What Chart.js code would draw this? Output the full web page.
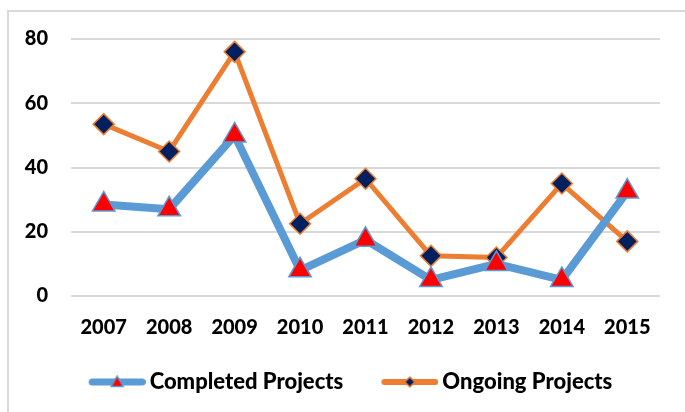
<!DOCTYPE html>
<html lang="en">
<head>
    <meta charset="UTF-8">
    <title>Projects 2007-2015</title>
    <script src="https://cdn.jsdelivr.net/npm/chart.js"></script>
    <style>
        body {
            margin: 0;
            background: #ffffff;
            overflow: hidden;
        }
        .frame {
            position: absolute;
            left: 7px;
            top: 10px;
            width: 700px;
            height: 420px;
            border-left: 2px solid #d9d9d9;
            border-top: 2px solid #d9d9d9;
        }
        .chart-box {
            position: absolute;
            left: 0;
            top: 0;
            width: 685px;
            height: 412px;
        }
    </style>
</head>
<body>
    <div class="frame"></div>
    <div class="chart-box"><canvas id="chart"></canvas></div>

    <script>
        const years = ['2007', '2008', '2009', '2010', '2011', '2012', '2013', '2014', '2015'];
        const completedProjects = [28.5, 27, 50, 8, 17.5, 5, 10, 5, 32.5];
        const ongoingProjects = [53.5, 45, 76, 22.5, 36.5, 12.5, 12, 35, 17];
        const yTicks = [0, 20, 40, 60, 80];

        const blue = '#5b9bd5';
        const orange = '#ed7d31';
        const navy = '#002060';
        const red = '#ff0000';
        const fontFamily = 'Lato, "Open Sans", sans-serif';

        // legend picture: transparent left part, then a 57px line with its marker
        const ICON_W = 92;
        function legendIcon(lineColor, lineWidth, marker) {
            const c = document.createElement('canvas');
            c.width = ICON_W;
            c.height = 20;
            const g = c.getContext('2d');
            const x0 = ICON_W - 57;
            const mid = x0 + 28.5;
            g.strokeStyle = lineColor;
            g.lineWidth = lineWidth;
            g.lineCap = 'round';
            g.beginPath();
            g.moveTo(x0 + lineWidth / 2, 10);
            g.lineTo(ICON_W - lineWidth / 2, 10);
            g.stroke();
            g.lineWidth = 1.5;
            g.beginPath();
            if (marker === 'triangle') {
                g.fillStyle = red;
                g.strokeStyle = blue;
                g.moveTo(mid, 4);
                g.lineTo(mid + 6, 14.5);
                g.lineTo(mid - 6, 14.5);
            } else {
                g.fillStyle = navy;
                g.strokeStyle = orange;
                g.moveTo(mid, 5);
                g.lineTo(mid + 5, 10);
                g.lineTo(mid, 15);
                g.lineTo(mid - 5, 10);
            }
            g.closePath();
            g.fill();
            g.stroke();
            return c;
        }

        const icons = [
            legendIcon(blue, 7, 'triangle'),
            legendIcon(orange, 6, 'diamond')
        ];

        // nudge the legend row so it sits where the original has it
        const legendShift = {
            id: 'legendShift',
            afterLayout(chart) {
                if (chart.legend) chart.legend.left = 13;
            }
        };

        new Chart(document.getElementById('chart'), {
            type: 'line',
            data: {
                labels: years,
                datasets: [{
                    label: 'Completed Projects',
                    data: completedProjects,
                    borderColor: blue,
                    borderWidth: 8,
                    borderJoinStyle: 'round',
                    borderCapStyle: 'round',
                    pointStyle: 'triangle',
                    pointRadius: 13,
                    pointBackgroundColor: red,
                    pointBorderColor: blue,
                    pointBorderWidth: 1.5,
                    tension: 0
                }, {
                    label: 'Ongoing Projects',
                    data: ongoingProjects,
                    borderColor: orange,
                    borderWidth: 5,
                    borderJoinStyle: 'round',
                    borderCapStyle: 'round',
                    pointStyle: 'rectRot',
                    pointRadius: 10.5,
                    pointBackgroundColor: navy,
                    pointBorderColor: orange,
                    pointBorderWidth: 1.5,
                    tension: 0
                }]
            },
            options: {
                responsive: true,
                maintainAspectRatio: false,
                animation: false,
                layout: {
                    padding: { left: 0, right: 25, top: 39, bottom: 9 }
                },
                plugins: {
                    tooltip: { enabled: false },
                    legend: {
                        position: 'bottom',
                        labels: {
                            usePointStyle: true,
                            pointStyleWidth: 78,
                            padding: 10,
                            color: '#000000',
                            font: { family: fontFamily, size: 22, weight: '900' },
                            generateLabels(chart) {
                                const items = Chart.defaults.plugins.legend.labels.generateLabels(chart);
                                items.forEach((item, i) => { item.pointStyle = icons[i]; });
                                return items;
                            }
                        }
                    }
                },
                scales: {
                    x: {
                        offset: true,
                        afterFit(scale) { scale.height = 65; },
                        grid: { display: false, drawTicks: false },
                        border: { display: false },
                        ticks: {
                            padding: 20,
                            color: '#000000',
                            maxRotation: 0,
                            font: { family: fontFamily, size: 20, weight: '900' }
                        }
                    },
                    y: {
                        min: 0,
                        max: 80,
                        afterFit(scale) { scale.width = 71; },
                        afterBuildTicks(scale) { scale.ticks = yTicks.map(v => ({ value: v })); },
                        grid: { color: '#d9d9d9', lineWidth: 2, drawTicks: false },
                        border: { display: false },
                        ticks: {
                            padding: 23,
                            color: '#000000',
                            font: { family: fontFamily, size: 20, weight: '900' }
                        }
                    }
                }
            },
            plugins: [legendShift]
        });
    </script>
</body>
</html>
